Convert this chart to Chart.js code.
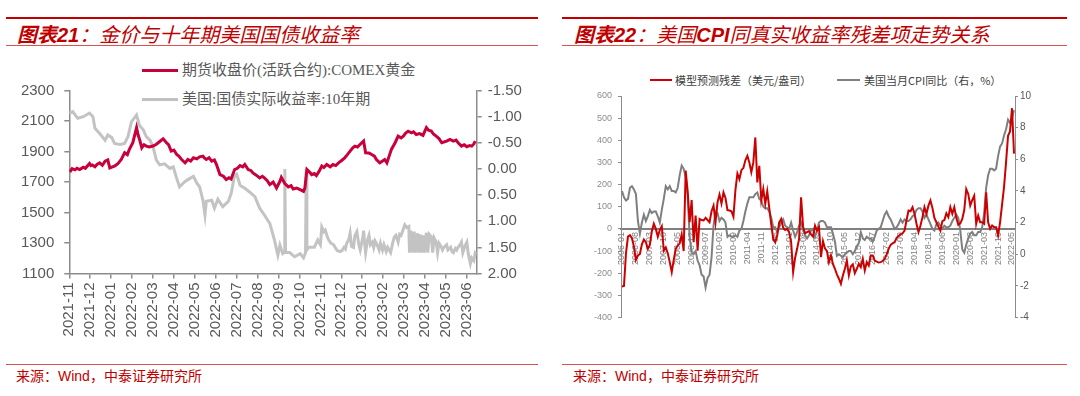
<!DOCTYPE html>
<html><head><meta charset="utf-8">
<script src="https://cdn.jsdelivr.net/npm/chart.js@4.4.0/dist/chart.umd.min.js"></script>
<style>
html,body{margin:0;padding:0;background:#fff;}
body{width:1080px;height:396px;position:relative;overflow:hidden;font-family:"Liberation Sans","Noto Sans CJK SC",sans-serif;}
.abs{position:absolute;white-space:nowrap;}
.hl{position:absolute;}
.title{font-size:20px;line-height:24px;color:#C00000;font-style:italic;font-family:"Noto Sans CJK SC",sans-serif;}
.title b{font-family:"Liberation Sans",sans-serif;font-weight:bold;}
.src{font-size:14px;line-height:18px;color:#C00000;font-family:"Noto Sans CJK SC",sans-serif;}
.src span{font-family:"Liberation Sans",sans-serif;}
.lgL{font-size:15px;line-height:18px;color:#595959;font-family:"Liberation Serif","Noto Sans CJK SC",serif;}
.lgR{font-size:11px;line-height:14px;color:#404040;font-family:"Noto Sans CJK SC",sans-serif;}
canvas{position:absolute;}
</style></head>
<body>
<!-- left panel decorations -->
<div class="hl" style="left:6px;top:17px;width:532px;height:2px;background:#C00000"></div>
<div class="abs title" style="left:17px;top:22px"><span style="font-weight:bold">图表</span><b>21</b>：金价与十年期美国国债收益率</div>
<div class="hl" style="left:6px;top:45px;width:532px;height:1px;background:#D9534F"></div>
<div class="hl" style="left:142px;top:69px;width:36px;height:3px;background:#C8003C"></div>
<div class="abs lgL" style="left:182px;top:61px">期货收盘价(活跃合约):COMEX黄金</div>
<div class="hl" style="left:142px;top:98px;width:36px;height:3px;background:#C0C0C0"></div>
<div class="abs lgL" style="left:182px;top:90px">美国:国债实际收益率:10年期</div>
<div class="hl" style="left:6px;top:364px;width:532px;height:1px;background:#D9534F"></div>
<div class="abs src" style="left:16px;top:366px">来源：<span>Wind</span>，中泰证券研究所</div>

<!-- right panel decorations -->
<div class="hl" style="left:562px;top:17px;width:505px;height:2px;background:#C00000"></div>
<div class="abs title" style="left:574px;top:22px"><span style="font-weight:bold">图表</span><b>22</b>：美国<b>CPI</b>同真实收益率残差项走势关系</div>
<div class="hl" style="left:562px;top:45px;width:505px;height:1px;background:#D9534F"></div>
<div class="hl" style="left:650px;top:79px;width:22px;height:2px;background:#CC0000"></div>
<div class="abs lgR" style="left:675px;top:73px">模型预测残差（美元/盎司）</div>
<div class="hl" style="left:837px;top:79px;width:23px;height:2px;background:#808080"></div>
<div class="abs lgR" style="left:864px;top:73px">美国当月CPI同比（右，%）</div>
<div class="hl" style="left:562px;top:364px;width:505px;height:1px;background:#D9534F"></div>
<div class="abs src" style="left:573px;top:366px">来源：<span>Wind</span>，中泰证券研究所</div>

<canvas id="cL" width="540" height="300" style="left:0;top:60px;width:540px;height:300px"></canvas>
<canvas id="cR" width="540" height="300" style="left:540px;top:60px;width:540px;height:300px"></canvas>

<script>
// ---------------- Left chart data ----------------
const leftMonthLabels = ['2021-11','2021-12','2022-01','2022-02','2022-03','2022-04','2022-05','2022-06','2022-07','2022-08','2022-09','2022-10','2022-11','2022-12','2023-01','2023-02','2023-03','2023-04','2023-05','2023-06'];

const goldDates = ['2021-11-01','2021-11-03','2021-11-05','2021-11-09','2021-11-12','2021-11-16','2021-11-21','2021-11-24','2021-11-30','2021-12-02','2021-12-04','2021-12-08','2021-12-11','2021-12-15','2021-12-19','2021-12-23','2021-12-27','2021-12-30','2022-01-03','2022-01-06','2022-01-11','2022-01-16','2022-01-21','2022-01-25','2022-01-28','2022-02-02','2022-02-07','2022-02-09','2022-02-11','2022-02-14','2022-02-17','2022-02-20','2022-02-24','2022-03-01','2022-03-06','2022-03-11','2022-03-16','2022-03-21','2022-03-24','2022-03-28','2022-04-01','2022-04-05','2022-04-08','2022-04-12','2022-04-17','2022-04-21','2022-04-25','2022-04-29','2022-05-04','2022-05-08','2022-05-13','2022-05-15','2022-05-18','2022-05-22','2022-05-26','2022-05-30','2022-06-02','2022-06-07','2022-06-12','2022-06-16','2022-06-20','2022-06-23','2022-06-28','2022-07-02','2022-07-06','2022-07-10','2022-07-13','2022-07-18','2022-07-22','2022-07-25','2022-07-30','2022-08-04','2022-08-08','2022-08-11','2022-08-15','2022-08-19','2022-08-24','2022-08-29','2022-09-03','2022-09-05','2022-09-10','2022-09-15','2022-09-19','2022-09-22','2022-09-27','2022-10-02','2022-10-07','2022-10-09','2022-10-12','2022-10-16','2022-10-19','2022-10-23','2022-10-26','2022-10-30','2022-11-03','2022-11-06','2022-11-10','2022-11-15','2022-11-19','2022-11-23','2022-11-27','2022-12-01','2022-12-06','2022-12-10','2022-12-14','2022-12-18','2022-12-21','2022-12-25','2022-12-29','2023-01-03','2023-01-06','2023-01-11','2023-01-15','2023-01-19','2023-01-22','2023-01-27','2023-01-30','2023-02-03','2023-02-06','2023-02-09','2023-02-12','2023-02-17','2023-02-21','2023-02-25','2023-02-28','2023-03-03','2023-03-07','2023-03-12','2023-03-15','2023-03-19','2023-03-24','2023-03-29','2023-04-03','2023-04-06','2023-04-10','2023-04-13','2023-04-17','2023-04-21','2023-04-25','2023-05-02','2023-05-07','2023-05-12','2023-05-16','2023-05-19','2023-05-24','2023-05-28','2023-06-01','2023-06-05','2023-06-08','2023-06-11','2023-06-13'];
const goldValues = [1782,1774,1788,1780,1790,1782,1797,1790,1822,1808,1812,1800,1815,1826,1810,1837,1845,1793,1800,1805,1820,1848,1892,1880,1914,1958,2057,2010,1980,1925,1945,1936,1930,1936,1948,1966,1984,1958,1945,1903,1910,1881,1870,1848,1826,1848,1838,1859,1852,1865,1870,1858,1848,1860,1837,1845,1815,1749,1738,1716,1728,1720,1782,1790,1808,1800,1815,1782,1776,1760,1745,1727,1738,1727,1710,1683,1700,1661,1705,1731,1690,1668,1676,1654,1660,1650,1639,1660,1782,1765,1749,1756,1742,1770,1805,1795,1815,1800,1815,1808,1826,1840,1859,1880,1903,1925,1936,1930,1948,1969,1892,1890,1881,1870,1848,1826,1835,1848,1826,1870,1914,1958,2001,1990,2001,2020,2034,2023,2030,2012,2018,2006,2057,2040,2034,2015,2001,1985,1958,1969,1980,1969,1975,1958,1936,1945,1932,1940,1936,1950,1969];

const yieldDates = ['2021-11-01','2021-11-06','2021-11-13','2021-11-21','2021-11-30','2021-12-05','2021-12-08','2021-12-15','2021-12-23','2021-12-27','2022-01-02','2022-01-06','2022-01-14','2022-01-21','2022-01-26','2022-01-31','2022-02-07','2022-02-11','2022-02-16','2022-02-20','2022-02-25','2022-03-01','2022-03-06','2022-03-11','2022-03-18','2022-03-26','2022-03-31','2022-04-05','2022-04-09','2022-04-17','2022-04-24','2022-04-29','2022-05-04','2022-05-08','2022-05-13','2022-05-16','2022-05-18','2022-05-26','2022-05-30','2022-06-04','2022-06-11','2022-06-19','2022-06-23','2022-06-28','2022-07-01','2022-07-06','2022-07-13','2022-07-20','2022-07-28','2022-08-04','2022-08-11','2022-08-19','2022-08-26','2022-08-31','2022-09-03','2022-09-07','2022-09-09','2022-09-10','2022-09-11','2022-09-17','2022-09-24','2022-10-02','2022-10-07','2022-10-10','2022-10-11','2022-10-12','2022-10-15','2022-10-23','2022-10-28','2022-11-01','2022-11-03','2022-11-06','2022-11-08','2022-11-11','2022-11-13','2022-11-16','2022-11-20','2022-11-23','2022-11-25','2022-11-29','2022-12-02','2022-12-05','2022-12-07','2022-12-09','2022-12-12','2022-12-14','2022-12-16','2022-12-19','2022-12-21','2022-12-24','2022-12-27','2022-12-29','2023-01-02','2023-01-03','2023-01-05','2023-01-06','2023-01-09','2023-01-11','2023-01-13','2023-01-16','2023-01-18','2023-01-20','2023-01-23','2023-01-26','2023-01-28','2023-01-31','2023-02-02','2023-02-05','2023-02-07','2023-02-09','2023-02-11','2023-02-14','2023-02-16','2023-02-18','2023-02-21','2023-02-23','2023-02-25','2023-02-28','2023-03-02','2023-03-05','2023-03-08','2023-03-09','2023-03-11','2023-03-14','2023-03-16','2023-03-18','2023-03-21','2023-03-23','2023-03-25','2023-03-27','2023-03-29','2023-03-31','2023-04-03','2023-04-05','2023-04-07','2023-04-10','2023-04-12','2023-04-14','2023-04-17','2023-04-19','2023-04-21','2023-04-24','2023-04-26','2023-04-28','2023-05-02','2023-05-04','2023-05-08','2023-05-10','2023-05-12','2023-05-15','2023-05-17','2023-05-19','2023-05-22','2023-05-24','2023-05-26','2023-05-29','2023-06-01','2023-06-03','2023-06-06','2023-06-08','2023-06-11','2023-06-13','2023-06-15'];
const yieldValues = [-1.07,-1.10,-0.97,-1.00,-1.07,-1.00,-0.78,-0.68,-0.55,-0.65,-0.60,-0.49,-0.47,-0.49,-0.62,-0.90,-1.03,-0.83,-0.75,-0.62,-0.55,-0.43,-0.17,-0.08,-0.10,-0.01,-0.04,0.18,0.34,0.24,0.18,0.14,0.27,0.34,0.60,0.88,0.62,0.60,0.75,0.58,0.72,0.62,0.47,0.12,0.10,0.31,0.37,0.44,0.53,0.75,0.88,1.04,1.36,1.65,1.46,1.62,1.60,0.00,1.60,1.60,1.68,1.62,1.70,1.60,0.00,1.55,1.50,1.50,1.36,
 1.45,1.11,1.20,1.17,1.30,1.36,1.42,1.45,1.52,1.56,1.58,1.56,1.50,1.53,1.42,1.35,1.23,1.48,1.50,1.28,1.20,1.45,1.55,1.30,1.18,1.48,1.60,1.35,1.27,1.45,1.40,1.50,1.38,1.45,1.55,1.42,1.55,1.45,1.58,1.50,1.55,1.60,1.40,1.30,1.27,1.40,1.25,1.27,1.15,1.07,1.12,1.10,1.60,1.18,1.60,1.20,1.60,1.23,1.60,1.25,1.60,1.27,1.60,1.22,1.60,1.25,1.30,1.60,1.32,1.40,1.60,1.42,1.48,1.55,1.50,1.45,1.55,1.50,1.58,1.60,1.52,1.55,1.50,1.45,1.40,1.60,1.48,1.40,1.62,1.81,1.70,1.75,1.60,1.62];

// ---------------- Right chart data ----------------
const rightTickLabels = ['2006-01','2006-08','2007-03','2007-10','2008-05','2008-12','2009-07','2010-02','2010-09','2011-04','2011-11','2012-06','2013-01','2013-08','2014-03','2014-10','2015-05','2015-12','2016-07','2017-02','2017-09','2018-04','2018-11','2019-06','2020-01','2020-08','2021-03','2021-10','2022-05'];

const residual = [
 -260,-258,-110,-35,-28,-42,-80,-140,-120,-113,-70,-48,
 -60,-90,-72,-10,23,0,-35,-5,12,-98,-83,-110,
 -150,-195,-140,-90,-75,-65,-25,-100,263,170,30,130,
 -60,60,-98,45,40,38,50,40,30,80,105,30,
 120,155,115,165,140,85,83,80,55,175,250,225,
 265,275,310,330,300,256,300,413,210,285,130,180,
 113,170,95,20,-45,-60,-30,30,45,5,-5,0,
 -15,-60,-195,-130,-90,-45,143,10,-20,-15,-10,-25,
 -35,15,-8,8,-128,-55,-88,-100,-150,-120,-158,-180,
 -205,-225,-248,-210,-180,-143,-210,-170,-160,-200,-180,-158,
 -173,-135,-188,-150,-165,-120,-120,-143,-148,-152,-150,-145,
 -135,-115,-90,-72,-65,-60,-40,-32,-25,-20,-8,40,
 83,80,98,68,23,-15,15,53,98,68,105,128,
 95,50,30,10,-8,35,40,70,53,98,68,98,
 50,18,25,45,85,180,158,105,130,150,23,60,
 30,30,23,165,30,0,15,8,8,-30,30,110,
 190,300,420,440,545,340];

const cpi = [
 4.0,3.6,3.4,3.5,4.2,4.3,4.1,3.8,2.1,1.3,2.0,2.5,
 2.1,2.4,2.8,2.6,2.7,2.7,2.4,2.0,2.8,3.5,4.3,4.1,
 4.3,4.0,4.0,3.9,4.2,5.0,5.6,5.4,4.9,3.7,1.1,0.1,
 0.0,0.2,-0.4,-0.7,-1.3,-1.4,-2.1,-1.5,-1.3,-0.2,1.8,2.7,
 2.6,2.1,2.3,2.2,2.0,1.1,1.2,1.1,1.1,1.2,1.1,1.5,
 1.6,2.1,2.7,3.2,3.6,3.6,3.6,3.8,3.9,3.5,3.4,3.0,
 2.9,2.9,2.7,2.3,1.7,1.7,1.4,1.7,2.0,2.2,1.8,1.7,
 1.6,2.0,1.5,1.1,1.4,1.8,2.0,1.5,1.2,1.0,1.2,1.5,
 1.6,1.1,1.5,2.0,2.1,2.1,2.0,1.7,1.7,1.7,1.3,0.8,
 -0.1,0.0,-0.1,-0.2,0.0,0.1,0.2,0.2,0.0,0.2,0.5,0.7,
 1.4,1.0,0.9,1.1,1.0,1.0,0.8,1.1,1.5,1.6,1.7,2.1,
 2.5,2.7,2.4,2.2,1.9,1.6,1.7,1.9,2.2,2.0,2.2,2.1,
 2.1,2.2,2.4,2.5,2.8,2.9,2.9,2.7,2.3,2.5,2.2,1.9,
 1.6,1.5,1.9,2.0,1.8,1.6,1.8,1.7,1.7,1.8,2.1,2.3,
 2.5,2.3,1.5,0.3,0.1,0.6,1.0,1.3,1.4,1.2,1.2,1.4,
 1.4,1.7,2.6,4.2,5.0,5.4,5.4,5.3,5.4,6.2,6.8,7.0,
 7.5,7.9,8.5,8.3,8.6,9.1];

// ---------------- helpers ----------------
function monthPos(s){
  const p = s.split('-').map(Number);
  const dim = new Date(p[0], p[1], 0).getDate();
  return (p[0]-2021)*12 + (p[1]-11) + (p[2]-1)/dim;
}
const AX = '#8C8C8C';
const TXT = '#595959';
const sansL = {family:'"Liberation Sans", Arial, sans-serif', size:15};

// ---------------- Left chart ----------------
new Chart(document.getElementById('cL'), {
  type:'line',
  data:{datasets:[
    {label:'期货收盘价(活跃合约):COMEX黄金', yAxisID:'y', borderColor:'#C8003C', borderWidth:3, pointRadius:0, tension:0,
     data: goldDates.map((d,i)=>({x:monthPos(d), y:goldValues[i]}))},
    {label:'美国:国债实际收益率:10年期', yAxisID:'y1', borderColor:'#C3C3C3', borderWidth:3, pointRadius:0, tension:0,
     data: yieldDates.map((d,i)=>({x:monthPos(d), y:yieldValues[i]}))}
  ]},
  options:{
    responsive:false, animation:false, devicePixelRatio:1,
    layout:{padding:{top:30.6, left:0, right:0, bottom:0}},
    plugins:{legend:{display:false}, tooltip:{enabled:false}},
    scales:{
      x:{type:'linear', min:0, max:19.47,
         afterBuildTicks:s=>{ s.ticks = leftMonthLabels.map((_,i)=>({value:i})); },
         ticks:{autoSkip:false, minRotation:90, maxRotation:90, color:TXT, font:sansL, padding:4,
                callback:(v,i)=>leftMonthLabels[i]},
         grid:{drawOnChartArea:false, drawTicks:true, tickLength:5, color:AX, lineWidth:1.5},
         border:{display:true, color:AX, width:1.5},
         afterFit:s=>{ s.height = 86.5; }},
      y:{position:'left', min:1100, max:2300,
         ticks:{stepSize:200, color:TXT, font:sansL, padding:10, callback:v=>String(Math.round(v))},
         grid:{drawOnChartArea:false, drawTicks:true, tickLength:5, color:AX, lineWidth:1.5},
         border:{display:true, color:AX, width:1.5},
         afterFit:s=>{ s.width = 69.3; }},
      y1:{position:'right', reverse:true, min:-1.5, max:2.0,
         ticks:{stepSize:0.5, color:TXT, font:sansL, padding:6, callback:v=>Number(v).toFixed(2)},
         grid:{drawOnChartArea:false, drawTicks:true, tickLength:5, color:AX, lineWidth:1.5},
         border:{display:true, color:AX, width:1.5},
         afterFit:s=>{ s.width = 63.3; }}
    }
  }
});

// ---------------- Right chart ----------------
new Chart(document.getElementById('cR'), {
  type:'line',
  data:{datasets:[
    {label:'模型预测残差（美元/盎司）', yAxisID:'y', borderColor:'#CC0000', borderWidth:2, pointRadius:0, tension:0,
     data: residual.map((v,i)=>({x:i, y:v}))},
    {label:'美国当月CPI同比（右，%）', yAxisID:'y1', borderColor:'#7F7F7F', borderWidth:2, pointRadius:0, tension:0,
     data: cpi.map((v,i)=>({x:i, y:v}))}
  ]},
  options:{
    responsive:false, animation:false, devicePixelRatio:1,
    layout:{padding:{top:36, left:0, right:0, bottom:42.5}},
    plugins:{legend:{display:false}, tooltip:{enabled:false}},
    scales:{
      x:{type:'linear', position:{y:0}, min:-0.5, max:197.5,
         afterBuildTicks:s=>{ s.ticks = rightTickLabels.map((_,i)=>({value:i*7})); },
         ticks:{autoSkip:false, minRotation:90, maxRotation:90, color:'#808080',
                font:{family:'"Liberation Sans", Arial, sans-serif', size:9}, padding:3,
                callback:(v,i)=>rightTickLabels[i]},
         grid:{display:false, drawTicks:false},
         border:{display:true, color:'#808080', width:2},
         afterFit:s=>{ s.height = 0; }},
      y:{position:'left', min:-400, max:600,
         ticks:{stepSize:100, color:'#8C8C8C', font:{family:'"Liberation Sans", Arial, sans-serif', size:9}, padding:6},
         grid:{drawOnChartArea:false, drawTicks:true, tickLength:3, color:AX, lineWidth:1},
         border:{display:true, color:AX, width:1},
         afterFit:s=>{ s.width = 81; }},
      y1:{position:'right', min:-4, max:10,
         ticks:{stepSize:2, color:'#595959', font:{family:'"Liberation Sans", Arial, sans-serif', size:10}, padding:2},
         grid:{drawOnChartArea:false, drawTicks:true, tickLength:3, color:AX, lineWidth:1},
         border:{display:true, color:AX, width:1},
         afterFit:s=>{ s.width = 65; }}
    }
  }
});
</script>
</body></html>
